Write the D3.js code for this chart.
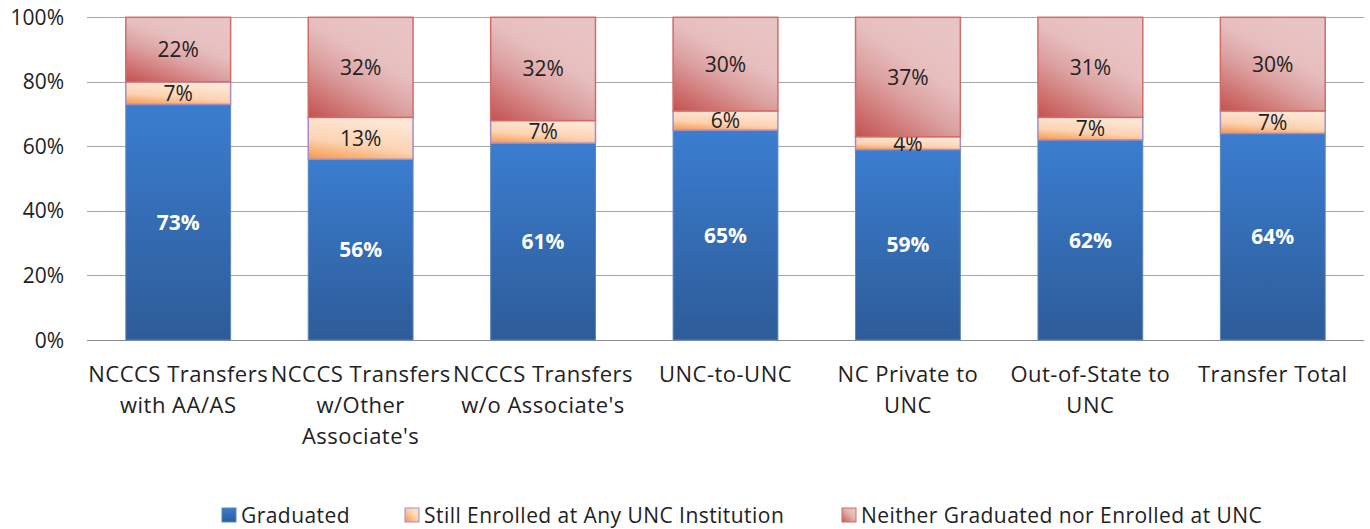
<!DOCTYPE html>
<html>
<head>
<meta charset="utf-8">
<script src="https://cdn.jsdelivr.net/npm/d3@7"></script>
<style>
  body { margin: 0; background: #fff; }
  text { font-family: "Open Sans", Lato, sans-serif; }
</style>
</head>
<body>
<svg id="chart" width="1370" height="529"></svg>
<script>
// categories (label lines) and series values, in percent
var categories = [
	["NCCCS Transfers", "with AA/AS"],
	["NCCCS Transfers", "w/Other", "Associate's"],
	["NCCCS Transfers", "w/o Associate's"],
	["UNC-to-UNC"],
	["NC Private to", "UNC"],
	["Out-of-State to", "UNC"],
	["Transfer Total"]
];
var graduated = [73, 56, 61, 65, 59, 62, 64];
var stillEnrolled = [7, 13, 7, 6, 4, 7, 7];
var neither = [22, 32, 32, 30, 37, 31, 30];
var seriesNames = ["Graduated", "Still Enrolled at Any UNC Institution", "Neither Graduated nor Enrolled at UNC"];
var yTicks = [0, 20, 40, 60, 80, 100];

var svg = d3.select("#chart");
var x0 = 87, x1 = 1364, yBottom = 340, yTop = 17.3;

var rows = categories.map(function(c, i) {
	return { key: i, g: graduated[i], s: stillEnrolled[i], n: neither[i] };
});

var x = d3.scaleBand().domain(d3.range(categories.length)).range([x0, x1]).paddingInner(0.42).paddingOuter(0.21);
var y = d3.scaleLinear().domain([0, 100]).range([yBottom, yTop]).clamp(true);

var stack = d3.stack().keys(["g", "s", "n"]);
var layers = stack(rows);

// gradients
var defs = svg.append("defs");
function grad(id, stops, x1_, y1_, x2_, y2_) {
	var lg = defs.append("linearGradient").attr("id", id)
		.attr("x1", x1_).attr("y1", y1_).attr("x2", x2_).attr("y2", y2_);
	stops.forEach(function(s) { lg.append("stop").attr("offset", s[0]).attr("stop-color", s[1]); });
}
grad("gBlue", [[0, "#3b7dd0"], [1, "#2d5c98"]], 0, 0, 0, 1);
grad("gOrange", [[0, "#f7964a"], [0.45, "#fcd3b2"], [1, "#fde6d4"]], 0, 1, 0.35, 0);
grad("gRed", [[0, "#c4514e"], [0.45, "#dca0a0"], [0.7, "#e7bebe"], [1, "#e9c4c4"]], 0, 1, 0.6, 0);
// legend swatch gradients
grad("gRedL", [[0, "#c85a58"], [0.6, "#e6b8b8"], [1, "#ecc8c8"]], 0, 1, 1, 0);
grad("gOrangeL", [[0, "#f7964a"], [0.6, "#fcd6b8"], [1, "#fde6d4"]], 0, 1, 1, 0);

var fills = ["url(#gBlue)", "url(#gOrange)", "url(#gRed)"];
var strokes = ["#5b86bf", "#a48cc4", "#d06b69"];
var legendFills = ["url(#gBlue)", "url(#gOrangeL)", "url(#gRedL)"];

// gridlines
svg.append("g").selectAll("line")
	.data(yTicks)
	.enter()
	.append("line")
	.attr("x1", x0).attr("x2", x1)
	.attr("y1", function(d) { return Math.round(y(d)) + 0.5; })
	.attr("y2", function(d) { return Math.round(y(d)) + 0.5; })
	.style("stroke", function(d) { return d === 0 ? "#8c8c8c" : "#a6a6a6"; })
	.style("stroke-width", 1);

// y axis labels
svg.append("g").selectAll("text")
	.data(yTicks)
	.enter()
	.append("text")
	.attr("x", 64)
	.attr("y", function(d) { return y(d); })
	.attr("dy", "0.36em")
	.style("text-anchor", "end")
	.style("font-size", "21px")
	.style("fill", "#222")
	.text(function(d) { return d + "%"; });

// bars
var layerG = svg.append("g").selectAll("g")
	.data(layers)
	.enter()
	.append("g");

layerG.selectAll("rect")
	.data(function(d, li) { return d.map(function(p) { return { p: p, li: li }; }); })
	.enter()
	.append("rect")
	.attr("x", function(d) { return x(d.p.data.key) + 0.5; })
	.attr("width", x.bandwidth() - 1)
	.attr("y", function(d) { return y(d.p[1]); })
	.attr("height", function(d) { return y(d.p[0]) - y(d.p[1]); })
	.style("fill", function(d) { return fills[d.li]; })
	.style("stroke", function(d) { return strokes[d.li]; })
	.style("stroke-width", function(d) { return d.li === 0 ? 1 : 1.5; });

// value labels
layerG.selectAll("text")
	.data(function(d, li) { return d.map(function(p) { return { p: p, li: li }; }); })
	.enter()
	.append("text")
	.attr("x", function(d) { return x(d.p.data.key) + x.bandwidth() / 2; })
	.attr("y", function(d) { return (y(d.p[0]) + y(d.p[1])) / 2; })
	.attr("dy", "0.36em")
	.style("text-anchor", "middle")
	.style("font-size", "21px")
	.style("font-weight", function(d) { return d.li === 0 ? "bold" : "normal"; })
	.style("fill", function(d) { return d.li === 0 ? "#fff" : "#222"; })
	.text(function(d) { return (d.p[1] - d.p[0]) + "%"; });

// category labels
var cat = svg.append("g").selectAll("text")
	.data(categories)
	.enter()
	.append("text")
	.attr("x", function(d, i) { return x(i) + x.bandwidth() / 2; })
	.attr("y", 382)
	.style("text-anchor", "middle")
	.style("font-size", "22px")
	.style("letter-spacing", "0.5px")
	.style("fill", "#222");

cat.selectAll("tspan")
	.data(function(d) { return d; })
	.enter()
	.append("tspan")
	.attr("x", function() { return d3.select(this.parentNode).attr("x"); })
	.attr("dy", function(d, i) { return i === 0 ? 0 : 31; })
	.text(function(d) { return d; });

// legend
var legendX = [222, 405, 842];
var legend = svg.append("g").selectAll(".legend")
	.data(seriesNames)
	.enter()
	.append("g")
	.attr("class", "legend")
	.attr("transform", function(d, i) { return "translate(" + legendX[i] + ",508)"; });

legend.append("rect")
	.attr("width", 14)
	.attr("height", 14)
	.style("fill", function(d, i) { return legendFills[i]; })
	.style("stroke", function(d, i) { return strokes[i]; })
	.style("stroke-width", 1);

legend.append("text")
	.attr("x", 19)
	.attr("y", 7)
	.attr("dy", "0.36em")
	.style("font-size", "21px")
	.style("letter-spacing", "0.45px")
	.style("fill", "#222")
	.text(function(d) { return d; });
</script>
</body>
</html>
